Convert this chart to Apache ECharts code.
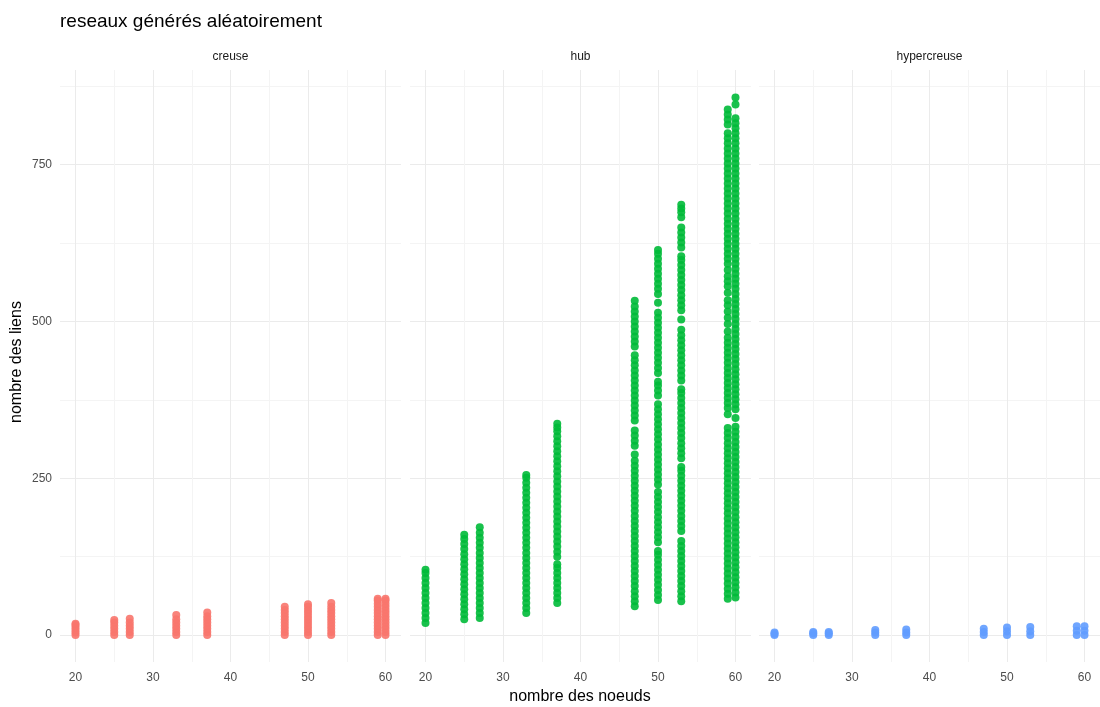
<!DOCTYPE html>
<html>
<head>
<meta charset="utf-8">
<script src="https://cdn.jsdelivr.net/npm/echarts@6/dist/echarts.min.js"></script>
<style>
  html, body { margin: 0; padding: 0; background: #fff; }
  #chart { width: 1100px; height: 707px; }
</style>
</head>
<body>
<div id="chart"></div>
<script>
// nombre des noeuds (one column of points per value)
var nodes = [20, 25, 27, 33, 37, 47, 50, 53, 59, 60];
var facets = ['creuse', 'hub', 'hypercreuse'];
var colors = ['#F8766D', '#00BA38', '#619CFF'];
var xMajor = [20, 30, 40, 50, 60];
var xMinor = [25, 35, 45, 55];
var yMajor = [0, 250, 500, 750];
var yMinor = [125, 375, 625, 875];

// nombre des liens, one list per node count
var creuseLinks = [
    [0, 4, 8, 12, 16, 18],
    [0, 5, 10, 15, 20, 24],
    [0, 5, 10, 15, 20, 26],
    [0, 5, 10, 15, 20, 25, 32],
    [0, 5, 10, 15, 20, 25, 30, 36],
    [0, 5, 10, 15, 20, 25, 30, 35, 40, 45],
    [0, 5, 10, 15, 20, 25, 30, 35, 40, 45, 49],
    [0, 5, 10, 15, 20, 25, 30, 35, 40, 45, 51],
    [0, 5, 10, 15, 20, 25, 30, 35, 40, 45, 50, 55, 58],
    [0, 5, 10, 15, 20, 25, 30, 35, 40, 45, 50, 55, 58]
];
var hubLinks = [
    [19, 27, 35, 43, 51, 59, 67, 75, 83, 91, 99, 104],
    [25, 33, 41, 49, 57, 65, 73, 81, 89, 97, 105, 113, 121, 129, 137, 145, 153, 160],
    [27, 35, 43, 51, 59, 67, 75, 83, 91, 99, 107, 115, 123, 131, 139, 147, 155, 163, 172],
    [35, 43, 51, 59, 67, 75, 83, 91, 99, 107, 115, 123, 131, 139, 147, 155, 163, 171, 179, 187,
     195, 203, 211, 219, 227, 235, 243, 251, 255],
    [51, 59, 67, 75, 83, 91, 99, 107, 113, 125, 133, 141, 149, 157, 165, 173, 181, 189, 197, 205,
     213, 221, 229, 237, 245, 253, 261, 269, 277, 285, 293, 301, 309, 317, 325, 331, 337],
    [46, 54, 62, 70, 78, 86, 94, 102, 110, 118, 126, 134, 142, 150, 158, 166, 174, 182, 190, 198,
     206, 214, 222, 230, 238, 246, 254, 262, 270, 278, 288, 302, 310, 318, 326, 342, 350, 358, 366,
     374, 382, 390, 398, 406, 414, 422, 430, 438, 446, 460, 468, 476, 484, 492, 500, 508, 516, 524, 533],
    [56, 64, 72, 80, 88, 96, 104, 112, 120, 128, 134, 148, 156, 164, 172, 180, 188, 196, 204, 212,
     220, 228, 240, 248, 256, 264, 272, 280, 288, 296, 304, 312, 320, 328, 336, 344, 352, 360, 368,
     382, 390, 398, 404, 418, 426, 434, 442, 450, 458, 466, 474, 482, 490, 498, 506, 514, 530, 544,
     552, 560, 568, 576, 584, 592, 600, 608, 614],
    [54, 62, 70, 78, 86, 94, 102, 110, 118, 126, 134, 142, 150, 166, 174, 182, 190, 198, 206, 214,
     222, 230, 238, 246, 254, 262, 268, 282, 290, 298, 306, 314, 322, 330, 338, 346, 354, 362, 370,
     378, 386, 392, 406, 414, 422, 430, 438, 446, 454, 462, 470, 478, 487, 503, 518, 526, 534, 542,
     550, 558, 566, 574, 582, 590, 598, 604, 618, 626, 634, 642, 650, 666, 674, 680, 686],
    [58, 66, 74, 82, 90, 98, 106, 114, 122, 130, 138, 146, 154, 162, 170, 178, 186, 194, 202, 210,
     218, 226, 234, 242, 250, 258, 266, 274, 282, 290, 298, 306, 314, 322, 330, 352, 362, 370, 378,
     386, 394, 402, 410, 418, 426, 434, 442, 450, 458, 466, 474, 484, 496, 506, 516, 526, 534, 546,
     556, 564, 572, 582, 592, 600, 608, 616, 624, 632, 640, 648, 656, 664, 672, 680, 688, 696, 704,
     712, 720, 728, 736, 744, 752, 760, 768, 776, 784, 792, 800, 814, 822, 830, 838],
    [60, 68, 76, 84, 92, 100, 108, 116, 124, 132, 140, 148, 156, 164, 172, 180, 188, 196, 204, 212,
     220, 228, 236, 244, 252, 260, 268, 276, 284, 292, 300, 308, 316, 324, 332, 346, 360, 368, 376,
     384, 392, 400, 408, 416, 424, 432, 440, 448, 456, 464, 472, 480, 488, 496, 504, 512, 520, 528,
     536, 544, 552, 560, 568, 576, 584, 592, 600, 608, 616, 624, 632, 640, 648, 656, 664, 672, 680,
     688, 696, 704, 712, 720, 728, 736, 744, 752, 760, 768, 776, 784, 792, 800, 808, 816, 824, 846, 857]
];
var hypercreuseLinks = [
    [0, 2, 4],
    [0, 3, 5],
    [0, 3, 5],
    [0, 4, 8],
    [0, 4, 9],
    [0, 5, 10],
    [0, 6, 12],
    [0, 6, 13],
    [0, 7, 14],
    [0, 7, 14]
];

var font = 'Liberation Sans, Arial, sans-serif';
var panelLeft = [60, 410, 759];
var panelWidth = 341;

function points(links) {
    var out = [];
    for (var i = 0; i < nodes.length; i++) {
        for (var j = 0; j < links[i].length; j++) {
            out.push([nodes[i], links[i][j]]);
        }
    }
    return out;
}

var grids = [], xAxes = [], yAxes = [], titles = [];
for (var g = 0; g < 3; g++) {
    grids.push({ left: panelLeft[g], top: 70, width: panelWidth, height: 592, outerBoundsMode: 'none', containLabel: false });
    titles.push({
        text: facets[g], left: panelLeft[g] + panelWidth / 2, top: 51, textAlign: 'center', padding: 0,
        textStyle: { fontFamily: font, fontSize: 12, fontWeight: 'normal', color: '#1a1a1a' }
    });
}
// major axes first (index 0..2), then minor grid axes (3..5)
for (var g = 0; g < 3; g++) {
    xAxes.push({
        type: 'value', gridIndex: g, min: 18, max: 62,
        axisLine: { show: false },
        axisTick: { show: false, customValues: xMajor },
        axisLabel: { customValues: xMajor, color: '#4d4d4d', fontFamily: font, fontSize: 12, margin: 10 },
        splitLine: { show: true, lineStyle: { color: '#ebebeb', width: 1 } }
    });
    yAxes.push({
        type: 'value', gridIndex: g, min: -43, max: 901,
        axisLine: { show: false },
        axisTick: { show: false, customValues: yMajor },
        axisLabel: { show: g == 0, customValues: yMajor, color: '#4d4d4d', fontFamily: font, fontSize: 12, margin: 8 },
        splitLine: { show: true, lineStyle: { color: '#ebebeb', width: 1 } }
    });
}
for (var g = 0; g < 3; g++) {
    xAxes.push({
        type: 'value', gridIndex: g, min: 18, max: 62, position: 'bottom',
        axisLine: { show: false },
        axisTick: { show: false, customValues: xMinor },
        axisLabel: { show: false, customValues: xMinor },
        splitLine: { show: true, lineStyle: { color: '#f4f4f4', width: 1 } }
    });
    yAxes.push({
        type: 'value', gridIndex: g, min: -43, max: 901, position: 'left',
        axisLine: { show: false },
        axisTick: { show: false, customValues: yMinor },
        axisLabel: { show: false, customValues: yMinor },
        splitLine: { show: true, lineStyle: { color: '#f4f4f4', width: 1 } }
    });
}

titles.unshift({
    text: 'reseaux générés aléatoirement', left: 60, top: 12, padding: 0,
    textStyle: { fontFamily: font, fontSize: 19, fontWeight: 'normal', color: '#000' }
});

var allLinks = [creuseLinks, hubLinks, hypercreuseLinks];
var series = [];
for (var g = 0; g < 3; g++) {
    series.push({
        name: facets[g], type: 'scatter', xAxisIndex: g, yAxisIndex: g,
        symbolSize: 8, silent: true,
        itemStyle: { color: colors[g], opacity: 0.9 },
        data: points(allLinks[g])
    });
}

var myChart = echarts.init(document.getElementById('chart'));
myChart.setOption({
    animation: false,
    backgroundColor: '#fff',
    title: titles,
    grid: grids,
    xAxis: xAxes,
    yAxis: yAxes,
    series: series,
    graphic: [
        {
            type: 'text', x: 580, y: 697,
            style: { text: 'nombre des noeuds', font: '16px ' + font, fill: '#000', align: 'center', verticalAlign: 'middle' }
        },
        {
            type: 'text', x: 17, y: 362, rotation: Math.PI / 2,
            style: { text: 'nombre des liens', font: '16px ' + font, fill: '#000', align: 'center', verticalAlign: 'middle' }
        }
    ]
});
</script>
</body>
</html>
